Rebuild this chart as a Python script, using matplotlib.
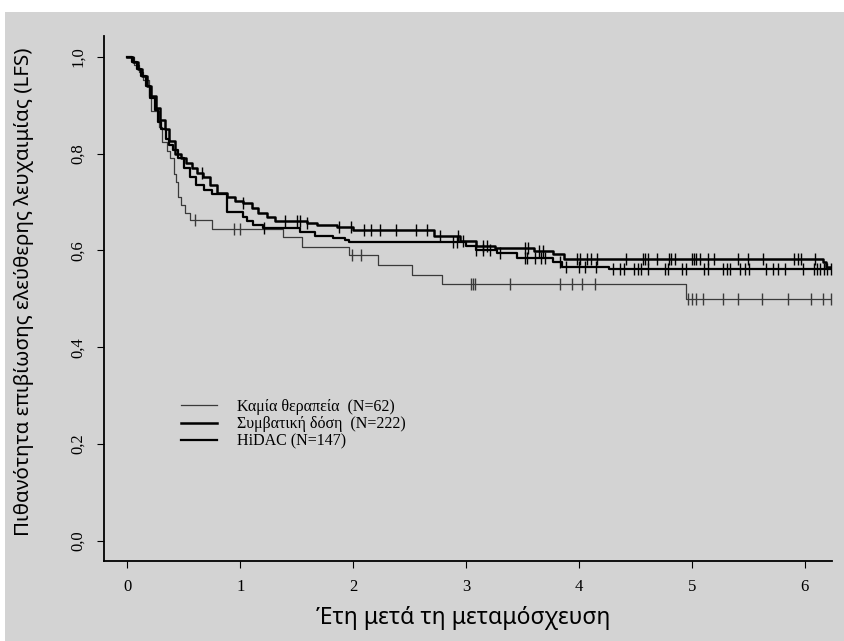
import numpy as np
import matplotlib
matplotlib.use('Agg')
import matplotlib.pyplot as plt
from matplotlib.patches import Rectangle

# Kaplan-Meier steps (time in years, survival)
none_t = [0, 0.06, 0.10, 0.14, 0.19, 0.21, 0.28, 0.31, 0.35, 0.38, 0.41, 0.43, 0.45,
          0.47, 0.51, 0.55, 0.75, 1.38, 1.55, 1.96, 2.22, 2.52, 2.79, 4.95, 6.24]
none_s = [1.0, 0.984, 0.968, 0.952, 0.919, 0.887, 0.855, 0.823, 0.806, 0.79, 0.758,
          0.742, 0.71, 0.694, 0.678, 0.662, 0.645, 0.627, 0.607, 0.59, 0.569, 0.55,
          0.53, 0.50, 0.50]
none_cens = [0.60, 0.94, 1.00, 1.99, 2.07, 3.04, 3.06, 3.08, 3.39, 3.83, 3.94, 4.03,
             4.14, 4.97, 5.00, 5.04, 5.10, 5.28, 5.41, 5.62, 5.85, 6.06, 6.16, 6.23]

conv_t = [0, 0.05, 0.09, 0.13, 0.17, 0.21, 0.25, 0.29, 0.33, 0.37, 0.42, 0.47, 0.52,
          0.57, 0.62, 0.67, 0.73, 0.79, 0.88, 0.95, 1.02, 1.10, 1.16, 1.24, 1.31,
          1.59, 1.68, 1.86, 2.00, 2.72, 2.95, 3.09, 3.26, 3.60, 3.77, 3.87, 6.16,
          6.19, 6.24]
conv_s = [1.0, 0.99, 0.975, 0.96, 0.94, 0.92, 0.895, 0.87, 0.85, 0.825, 0.80, 0.79,
          0.78, 0.77, 0.76, 0.752, 0.735, 0.718, 0.71, 0.703, 0.697, 0.687, 0.677,
          0.668, 0.66, 0.656, 0.652, 0.649, 0.642, 0.63, 0.619, 0.61, 0.604, 0.598,
          0.592, 0.583, 0.575, 0.565, 0.565]
conv_cens = [0.66, 1.02, 1.40, 1.50, 1.53, 1.59, 1.87, 1.98, 2.10, 2.16, 2.24, 2.38,
             2.56, 2.65, 2.77, 2.93, 2.97, 3.15, 3.19, 3.52, 3.55, 3.65, 3.68, 3.98,
             4.01, 4.07, 4.11, 4.16, 4.42, 4.57, 4.59, 4.61, 4.69, 4.80, 4.82, 4.85,
             5.00, 5.02, 5.04, 5.07, 5.14, 5.20, 5.41, 5.50, 5.63, 5.91, 5.94, 5.97,
             6.09]

hidac_t = [0, 0.04, 0.08, 0.12, 0.16, 0.20, 0.24, 0.27, 0.30, 0.34, 0.37, 0.405, 0.45,
           0.50, 0.55, 0.61, 0.68, 0.745, 0.88, 1.02, 1.06, 1.11, 1.20, 1.53, 1.66,
           1.82, 1.93, 1.96, 3.00, 3.09, 3.27, 3.45, 3.77, 3.85, 4.27, 6.24]
hidac_s = [1.0, 0.99, 0.975, 0.96, 0.94, 0.915, 0.89, 0.865, 0.85, 0.83, 0.818, 0.807,
           0.79, 0.77, 0.752, 0.735, 0.725, 0.716, 0.68, 0.669, 0.66, 0.652, 0.646,
           0.638, 0.63, 0.625, 0.621, 0.617, 0.608, 0.60, 0.594, 0.585, 0.576, 0.566,
           0.561, 0.561]
hidac_cens = [1.21, 2.88, 2.92, 3.09, 3.15, 3.21, 3.30, 3.52, 3.54, 3.61, 3.66, 3.70,
              3.83, 3.89, 4.00, 4.05, 4.15, 4.30, 4.36, 4.40, 4.49, 4.52, 4.55, 4.61,
              4.76, 4.79, 4.91, 4.95, 5.11, 5.14, 5.28, 5.31, 5.34, 5.43, 5.47, 5.51,
              5.66, 5.72, 5.76, 5.83, 5.99, 6.08, 6.11, 6.14, 6.17, 6.20, 6.23]

labels = ['Καμία θεραπεία  (N=62)', 'Συμβατική δόση  (N=222)', 'HiDAC (N=147)']
xticks = [0, 1, 2, 3, 4, 5, 6]
yticks = [0.0, 0.2, 0.4, 0.6, 0.8, 1.0]

bg = '#d3d3d3'
serif = ['Liberation Serif', 'DejaVu Serif']
sans = ['Noto Sans', 'DejaVu Sans']

fig = plt.figure(figsize=(8.44, 6.41), dpi=100, facecolor='white')
fig.patches.append(Rectangle((5 / 844, 0), 1, 1 - 12 / 641, transform=fig.transFigure,
                             facecolor=bg, edgecolor='none', zorder=-10))
ax = fig.add_axes([104 / 844, 1 - 561 / 641, (831.7 - 104) / 844, (561 - 36) / 641])
ax.set_facecolor('none')


def km(t, s, cens, color, lw, label):
    line, = ax.step(t, s, where='post', color=color, lw=lw, label=label)
    # censor marks sit on the step curve
    idx = np.searchsorted(t, cens, side='right') - 1
    ax.plot(cens, np.array(s)[idx], ls='none', marker='|', ms=8, mew=1.0, color=color)
    return line


h1 = km(none_t, none_s, none_cens, '#3a3a3a', 0.9, labels[0])
h2 = km(conv_t, conv_s, conv_cens, 'black', 1.8, labels[1])
h3 = km(hidac_t, hidac_s, hidac_cens, 'black', 1.6, labels[2])

ax.set_xlim(-0.208, 6.24)
ax.set_ylim(-0.042, 1.043)
for side in ['top', 'right']:
    ax.spines[side].set_visible(False)
ax.spines['left'].set_linewidth(1.3)
ax.spines['bottom'].set_linewidth(1.3)

ax.set_xticks(xticks)
ax.set_xticklabels([str(v) for v in xticks], family=serif, fontsize=12)
ax.set_yticks(yticks)
ax.set_yticklabels([f'{v:.1f}'.replace('.', ',') for v in yticks], family=serif,
                   fontsize=12, rotation=90, va='center')
ax.tick_params(axis='x', length=5, width=0.8, pad=8)
ax.tick_params(axis='y', length=5, width=0.8, pad=8)

fig.text(24 / 844, 1 - 292 / 641, 'Πιθανότητα επιβίωσης ελεύθερης λευχαιμίας (LFS)',
         rotation=90, ha='center', va='center', family=sans, fontsize=14.8)
fig.text(463 / 844, 1 - 618 / 641, 'Έτη μετά τη μεταμόσχευση',
         ha='center', va='center', family=sans, fontsize=16.5)

leg = ax.legend(handles=[h1, h2, h3], loc='upper left',
                bbox_to_anchor=(0.1054, 0.3086), frameon=False, borderpad=0,
                borderaxespad=0, handlelength=2.3, handletextpad=1.2,
                labelspacing=0.08, prop={'family': serif, 'size': 11.5})

fig.savefig('out.png', dpi=100, facecolor='white')
